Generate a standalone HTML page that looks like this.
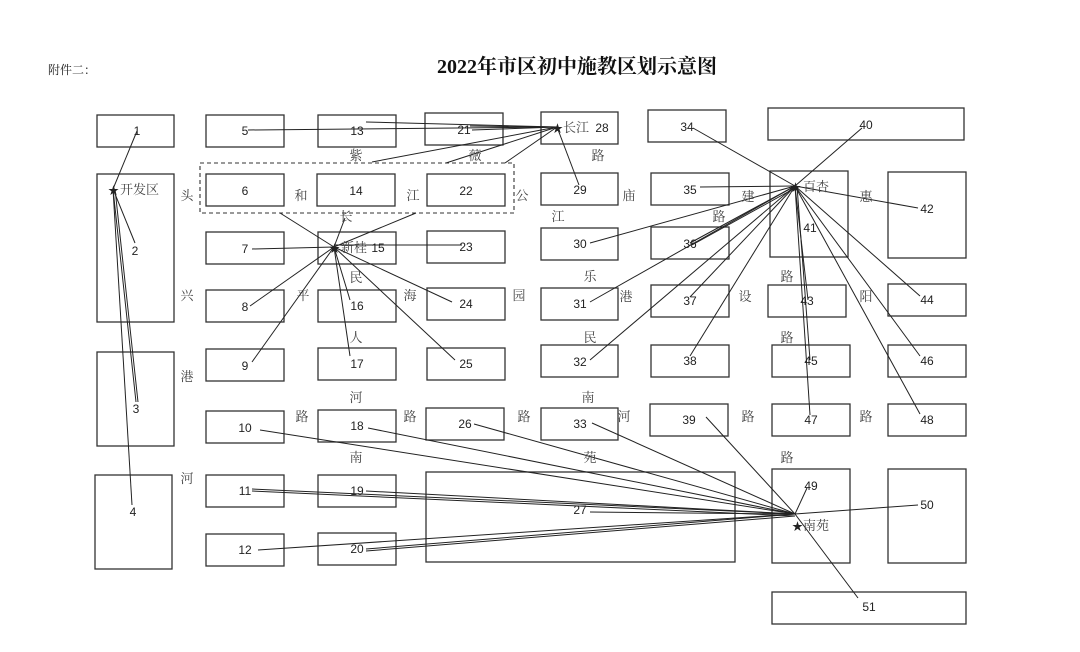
<!DOCTYPE html>
<html><head><meta charset="utf-8"><style>
html,body{margin:0;padding:0;background:#fff;}
svg{display:block;}
text{font-family:"Liberation Sans","Noto Sans CJK SC",sans-serif;font-size:12px;fill:#222;}
.r{font-family:"Liberation Serif","Noto Serif CJK SC",serif;font-size:13px;fill:#444;}
</style></head><body>
<svg width="1080" height="652" viewBox="0 0 1080 652" xmlns="http://www.w3.org/2000/svg">
<text x="48" y="74" class="r" style="font-size:12px;fill:#222">附件二：</text>
<text x="577" y="73" text-anchor="middle" style="font-family:'Liberation Serif','Noto Serif CJK SC',serif;font-size:20px;font-weight:bold;fill:#111">2022年市区初中施教区划示意图</text>
<g fill="none" stroke="#333" stroke-width="1.3">
<rect x="97" y="115" width="77" height="32"/><rect x="97" y="174" width="77" height="148"/><rect x="97" y="352" width="77" height="94"/><rect x="95" y="475" width="77" height="94"/>
<rect x="206" y="115" width="78" height="32"/><rect x="318" y="115" width="78" height="32"/><rect x="425" y="113" width="78" height="32"/><rect x="541" y="112" width="77" height="32"/><rect x="648" y="110" width="78" height="32"/><rect x="768" y="108" width="196" height="32"/>
<rect x="206" y="174" width="78" height="32"/><rect x="317" y="174" width="78" height="32"/><rect x="427" y="174" width="78" height="32"/><rect x="541" y="173" width="77" height="32"/><rect x="651" y="173" width="78" height="32"/><rect x="770" y="171" width="78" height="86"/><rect x="888" y="172" width="78" height="86"/>
<rect x="206" y="232" width="78" height="32"/><rect x="318" y="232" width="78" height="32"/><rect x="427" y="231" width="78" height="32"/><rect x="541" y="228" width="77" height="32"/><rect x="651" y="227" width="78" height="32"/>
<rect x="206" y="290" width="78" height="32"/><rect x="318" y="290" width="78" height="32"/><rect x="427" y="288" width="78" height="32"/><rect x="541" y="288" width="77" height="32"/><rect x="651" y="285" width="78" height="32"/><rect x="768" y="285" width="78" height="32"/><rect x="888" y="284" width="78" height="32"/>
<rect x="206" y="349" width="78" height="32"/><rect x="318" y="348" width="78" height="32"/><rect x="427" y="348" width="78" height="32"/><rect x="541" y="345" width="77" height="32"/><rect x="651" y="345" width="78" height="32"/><rect x="772" y="345" width="78" height="32"/><rect x="888" y="345" width="78" height="32"/>
<rect x="206" y="411" width="78" height="32"/><rect x="318" y="410" width="78" height="32"/><rect x="426" y="408" width="78" height="32"/><rect x="541" y="408" width="77" height="32"/><rect x="650" y="404" width="78" height="32"/><rect x="772" y="404" width="78" height="32"/><rect x="888" y="404" width="78" height="32"/>
<rect x="206" y="475" width="78" height="32"/><rect x="318" y="475" width="78" height="32"/><rect x="426" y="472" width="309" height="90"/><rect x="772" y="469" width="78" height="94"/><rect x="888" y="469" width="78" height="94"/>
<rect x="206" y="534" width="78" height="32"/><rect x="318" y="533" width="78" height="32"/><rect x="772" y="592" width="194" height="32"/>
<rect x="200" y="163" width="314" height="50" stroke-dasharray="4,3" stroke-width="1.1"/>
</g>
<g stroke="#222" stroke-width="1">
<line x1="113" y1="189" x2="137" y2="131"/><line x1="113" y1="189" x2="135" y2="243"/><line x1="113" y1="189" x2="136" y2="402"/><line x1="113" y1="189" x2="132" y2="505"/><line x1="115" y1="189" x2="138" y2="402"/>
<line x1="334" y1="247" x2="252" y2="249"/><line x1="334" y1="247" x2="250" y2="306"/><line x1="334" y1="247" x2="252" y2="362"/><line x1="334" y1="247" x2="350" y2="300"/><line x1="334" y1="247" x2="350" y2="356"/><line x1="334" y1="247" x2="452" y2="302"/><line x1="334" y1="247" x2="455" y2="360"/><line x1="334" y1="245" x2="462" y2="245"/><line x1="334" y1="247" x2="280" y2="213"/><line x1="334" y1="247" x2="416" y2="213"/><line x1="334" y1="247" x2="345" y2="218"/>
<line x1="557" y1="127" x2="248" y2="130"/><line x1="557" y1="127" x2="366" y2="122"/><line x1="557" y1="127" x2="470" y2="126"/><line x1="557" y1="127" x2="472" y2="130"/><line x1="557" y1="127" x2="372" y2="162"/><line x1="557" y1="127" x2="446" y2="163"/><line x1="557" y1="127" x2="505" y2="163"/><line x1="557" y1="127" x2="579" y2="185"/>
<line x1="795" y1="186" x2="693" y2="128"/><line x1="795" y1="186" x2="862" y2="128"/><line x1="795" y1="186" x2="700" y2="187"/><line x1="795" y1="186" x2="918" y2="208"/><line x1="795" y1="186" x2="590" y2="243"/><line x1="795" y1="186" x2="690" y2="243"/><line x1="795" y1="188" x2="692" y2="245"/><line x1="795" y1="186" x2="590" y2="302"/><line x1="795" y1="186" x2="690" y2="297"/><line x1="795" y1="186" x2="590" y2="360"/><line x1="795" y1="186" x2="690" y2="356"/><line x1="795" y1="186" x2="808" y2="300"/><line x1="797" y1="186" x2="810" y2="360"/><line x1="795" y1="186" x2="810" y2="415"/><line x1="795" y1="186" x2="920" y2="296"/><line x1="795" y1="186" x2="920" y2="356"/><line x1="795" y1="186" x2="920" y2="414"/>
<line x1="795" y1="514" x2="260" y2="430"/><line x1="795" y1="514" x2="368" y2="428"/><line x1="795" y1="514" x2="474" y2="424"/><line x1="795" y1="514" x2="592" y2="423"/><line x1="795" y1="514" x2="706" y2="417"/><line x1="795" y1="514" x2="807" y2="488"/><line x1="795" y1="514" x2="918" y2="505"/><line x1="795" y1="514" x2="858" y2="598"/><line x1="795" y1="514" x2="252" y2="489"/><line x1="795" y1="516" x2="252" y2="491"/><line x1="795" y1="514" x2="366" y2="491"/><line x1="795" y1="514" x2="590" y2="512"/><line x1="795" y1="514" x2="258" y2="550"/><line x1="795" y1="514" x2="366" y2="549"/><line x1="795" y1="516" x2="366" y2="551"/>
</g>
<g text-anchor="middle">
<text x="137" y="135">1</text><text x="135" y="255">2</text><text x="136" y="413">3</text><text x="133" y="516">4</text>
<text x="245" y="135">5</text><text x="357" y="135">13</text><text x="464" y="134">21</text><text x="602" y="132">28</text><text x="687" y="131">34</text><text x="866" y="129">40</text>
<text x="245" y="195">6</text><text x="356" y="195">14</text><text x="466" y="195">22</text><text x="580" y="194">29</text><text x="690" y="194">35</text><text x="810" y="232">41</text><text x="927" y="213">42</text>
<text x="245" y="253">7</text><text x="378" y="252">15</text><text x="466" y="251">23</text><text x="580" y="248">30</text><text x="690" y="248">36</text>
<text x="245" y="311">8</text><text x="357" y="310">16</text><text x="466" y="308">24</text><text x="580" y="308">31</text><text x="690" y="305">37</text><text x="807" y="305">43</text><text x="927" y="304">44</text>
<text x="245" y="370">9</text><text x="357" y="368">17</text><text x="466" y="368">25</text><text x="580" y="366">32</text><text x="690" y="365">38</text><text x="811" y="365">45</text><text x="927" y="365">46</text>
<text x="245" y="432">10</text><text x="357" y="430">18</text><text x="465" y="428">26</text><text x="580" y="428">33</text><text x="689" y="424">39</text><text x="811" y="424">47</text><text x="927" y="424">48</text>
<text x="245" y="495">11</text><text x="357" y="495">19</text><text x="580" y="514">27</text><text x="811" y="490">49</text><text x="927" y="509">50</text>
<text x="245" y="554">12</text><text x="357" y="553">20</text><text x="869" y="611">51</text>
</g>
<g>
<text x="108" y="194" style="font-size:11px">★</text><text x="120" y="194" class="r">开发区</text>
<text x="329" y="252" style="font-size:11px">★</text><text x="341" y="252" class="r">新桂</text>
<text x="552" y="132" style="font-size:11px">★</text><text x="563" y="132" class="r">长江</text>
<text x="790" y="191" style="font-size:11px">★</text><text x="803" y="191" class="r">百杏</text>
<text x="792" y="530" style="font-size:11px">★</text><text x="803" y="530" class="r">南苑</text>
</g>
<g class="r" text-anchor="middle">
<text class="r" x="356" y="160">紫</text><text class="r" x="475" y="160">薇</text><text class="r" x="598" y="160">路</text>
<text class="r" x="187" y="200">头</text><text class="r" x="301" y="200">和</text><text class="r" x="413" y="200">江</text><text class="r" x="522" y="200">公</text><text class="r" x="346" y="221">长</text>
<text class="r" x="558" y="221">江</text><text class="r" x="629" y="200">庙</text>
<text class="r" x="356" y="282">民</text><text class="r" x="187" y="300">兴</text><text class="r" x="303" y="300">平</text><text class="r" x="410" y="300">海</text><text class="r" x="519" y="300">园</text>
<text class="r" x="590" y="281">乐</text><text class="r" x="626" y="301">港</text><text class="r" x="590" y="342">民</text>
<text class="r" x="356" y="342">人</text><text class="r" x="187" y="381">港</text><text class="r" x="356" y="402">河</text>
<text class="r" x="302" y="421">路</text><text class="r" x="410" y="421">路</text><text class="r" x="524" y="421">路</text><text class="r" x="588" y="402">南</text><text class="r" x="624" y="421">河</text>
<text class="r" x="356" y="462">南</text><text class="r" x="187" y="483">河</text><text class="r" x="590" y="462">苑</text>
<text class="r" x="748" y="201">建</text><text class="r" x="719" y="221">路</text><text class="r" x="745" y="301">设</text><text class="r" x="787" y="281">路</text><text class="r" x="787" y="342">路</text><text class="r" x="748" y="421">路</text><text class="r" x="787" y="462">路</text>
<text class="r" x="866" y="201">惠</text><text class="r" x="866" y="301">阳</text><text class="r" x="866" y="421">路</text>
</g>
</svg>
</body></html>
